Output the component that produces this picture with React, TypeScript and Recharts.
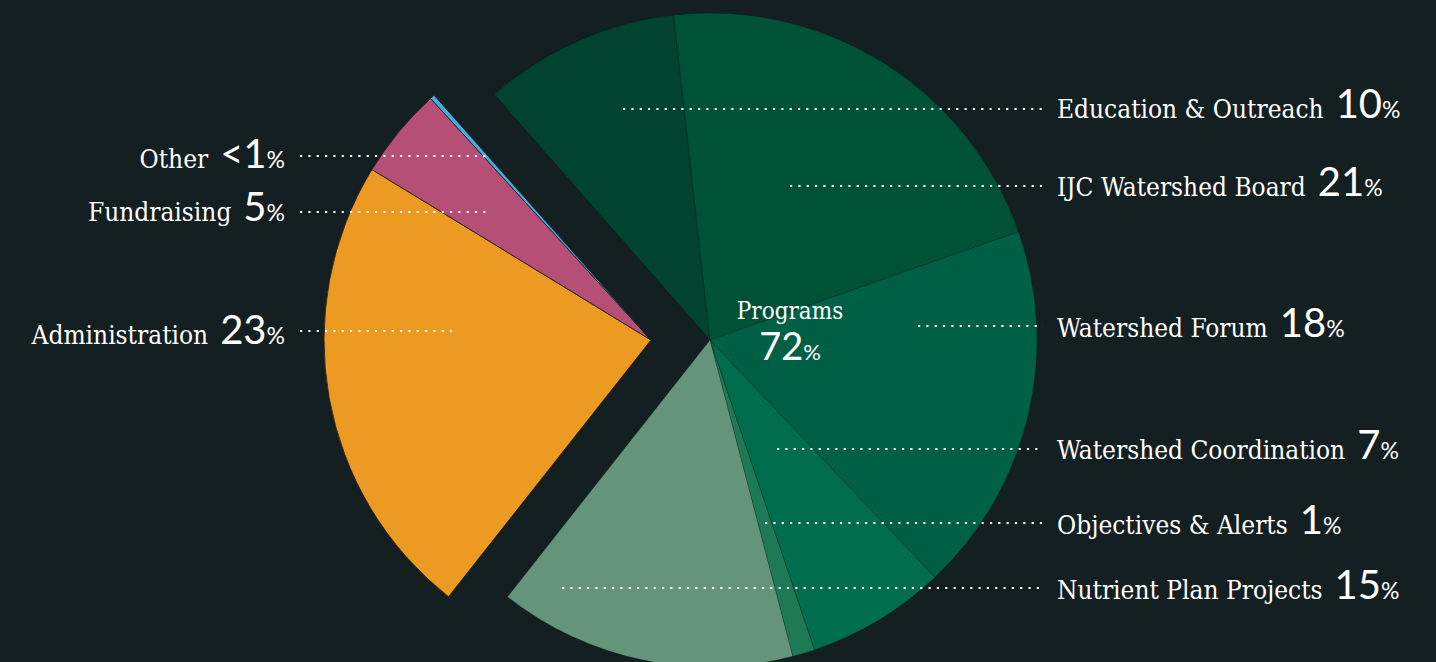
import React from 'react';
import { PieChart, Pie, Cell } from 'recharts';

const W = 1436;
const H = 662;

// Programs (right, green) slices, clockwise from the upper-left gap
const programNames = [
  'Education & Outreach',
  'IJC Watershed Board',
  'Watershed Forum',
  'Watershed Coordination',
  'Objectives & Alerts',
  'Nutrient Plan Projects',
];
const programValues = [9.7, 21.4, 18.3, 6.9, 1.1, 14.7];
const programLabels = ['10', '21', '18', '7', '1', '15'];
const programColors = ['#00432e', '#005237', '#006045', '#006d4d', '#1e7a55', '#64957a'];

// Other (left, exploded) slices, clockwise
const otherNames = ['Administration', 'Fundraising', 'Other'];
const otherValues = [23.1, 4.5, 0.23];
const otherLabels = ['23', '5', '<1'];
const otherColors = ['#ec9a22', '#b54f76', '#41aee0'];

const programsTitle = 'Programs';
const programsTotal = '72';

// layout
const BG = '#131f21';
const CX = 710;
const CY = 340;
const R = 327;
const EXPLODE = 59;
const START = 131.3;

const rightLineY = [109, 186, 326, 449, 523, 588];
const rightTextY = [118, 196, 337, 459, 534, 599];
const rightLineStartX = [623, 790, 918, 777, 765, 562];
const RIGHT_LINE_END = 1043;
const RIGHT_TEXT_X = 1057;

const leftLineY = [331, 212, 156];
const leftTextY = [344, 221, 168];
const leftLineEndX = [458, 490, 490];
const LEFT_LINE_START = 300;
const LEFT_TEXT_X = 285;

const NAME_FONT = '"DejaVu Serif Condensed", "DejaVu Serif", serif';
const NUM_FONT = 'Lato, "DejaVu Sans", sans-serif';
const NAME_SIZE = 26;
const DOTS = '2.2 6.13';

const sum = (a: number[]) => a.reduce((s, v) => s + v, 0);
const programData = programNames.map((n, i) => ({ name: n, value: programValues[i] }));
const otherData = otherNames.map((n, i) => ({ name: n, value: otherValues[i] }));

const programEnd = START - 3.6 * sum(programValues);
const otherStart = programEnd + 360;
const otherEnd = otherStart - 3.6 * sum(otherValues);

const renderProgramLabel = (props: any) => {
  const { index, cx, cy } = props;
  return (
    <g>
      <line
        x1={rightLineStartX[index]}
        x2={RIGHT_LINE_END}
        y1={rightLineY[index]}
        y2={rightLineY[index]}
        stroke="#ffffff"
        strokeWidth={2.2}
        strokeDasharray={DOTS}
      />
      <text x={RIGHT_TEXT_X} y={rightTextY[index]} fill="#ffffff" fontFamily={NAME_FONT} fontSize={NAME_SIZE}>
        <tspan>{programNames[index]}</tspan>
        <tspan dx={12} fontSize={40} fontFamily={NUM_FONT} fontWeight={400}>
          {programLabels[index]}
        </tspan>
        <tspan fontSize={23} fontFamily={NUM_FONT} fontWeight={400}>%</tspan>
      </text>
      {index === 0 ? (
        <g>
          <text x={cx + 80} y={cy - 21} fill="#ffffff" textAnchor="middle" fontFamily={NAME_FONT} fontSize={24}>
            {programsTitle}
          </text>
          <text x={cx + 80} y={cy + 20} fill="#ffffff" textAnchor="middle" fontFamily={NUM_FONT} fontWeight={400}>
            <tspan fontSize={38}>{programsTotal}</tspan>
            <tspan fontSize={22}>%</tspan>
          </text>
        </g>
      ) : null}
    </g>
  );
};

const renderOtherLabel = (props: any) => {
  const { index } = props;
  return (
    <g>
      <line
        x1={LEFT_LINE_START}
        x2={leftLineEndX[index]}
        y1={leftLineY[index]}
        y2={leftLineY[index]}
        stroke="#ffffff"
        strokeWidth={2.2}
        strokeDasharray={DOTS}
      />
      <text x={LEFT_TEXT_X} y={leftTextY[index]} fill="#ffffff" textAnchor="end" fontFamily={NAME_FONT} fontSize={NAME_SIZE}>
        <tspan>{otherNames[index]}</tspan>
        <tspan dx={12} fontSize={40} fontFamily={NUM_FONT} fontWeight={400}>
          {otherLabels[index]}
        </tspan>
        <tspan fontSize={23} fontFamily={NUM_FONT} fontWeight={400}>%</tspan>
      </text>
    </g>
  );
};

export default function App() {
  return (
    <div style={{ position: 'absolute', left: 0, top: 0, width: W, height: H, background: BG, overflow: 'hidden' }}>
      <PieChart width={W} height={H} margin={{ top: 0, right: 0, bottom: 0, left: 0 }}>
        <Pie
          data={programData}
          dataKey="value"
          nameKey="name"
          cx={CX}
          cy={CY}
          innerRadius={0}
          outerRadius={R}
          startAngle={START}
          endAngle={programEnd}
          stroke="rgba(0,0,0,0.2)"
          strokeWidth={1}
          label={renderProgramLabel}
          labelLine={false}
          isAnimationActive={false}
        >
          {programData.map((d, i) => (
            <Cell key={d.name} fill={programColors[i]} />
          ))}
        </Pie>
        <Pie
          data={otherData}
          dataKey="value"
          nameKey="name"
          cx={CX - EXPLODE}
          cy={CY}
          innerRadius={0}
          outerRadius={R}
          startAngle={otherStart}
          endAngle={otherEnd}
          stroke="#1a1a1a"
          strokeWidth={0.8}
          label={renderOtherLabel}
          labelLine={false}
          isAnimationActive={false}
        >
          {otherData.map((d, i) => (
            <Cell key={d.name} fill={otherColors[i]} />
          ))}
        </Pie>
      </PieChart>
    </div>
  );
}
